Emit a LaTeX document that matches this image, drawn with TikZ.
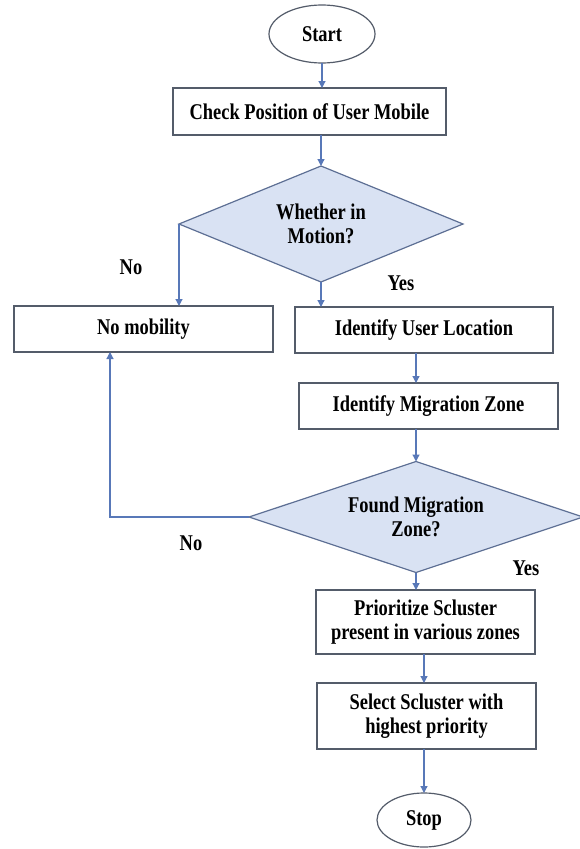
\documentclass[tikz,border=0pt]{standalone}
\usepackage{fontspec}
\setmainfont{Liberation Serif}[FakeStretch=0.82]
\usetikzlibrary{shapes.geometric,arrows.meta}
\definecolor{linkblue}{HTML}{5878B8}
\definecolor{boxline}{HTML}{545C6A}
\definecolor{decline}{HTML}{5D6F94}
\definecolor{decfill}{HTML}{D9E2F3}
\begin{document}
\begin{tikzpicture}[x=1pt,y=-1pt,
  every node/.style={font=\fontsize{22.5}{24}\selectfont\bfseries, inner sep=0pt, outer sep=0pt},
  procbox/.style={draw=boxline, line width=1.2pt, rectangle, fill=white, align=center},
  terminal/.style={draw=boxline, line width=1.2pt, ellipse, fill=white},
  decision/.style={draw=decline, line width=1.2pt, diamond, fill=decfill, align=center, shape aspect=3},
  flow/.style={draw=linkblue, line width=1.2pt, -{Triangle[length=7pt,width=7pt]}},
  branch/.style={text=black}
]
\useasboundingbox (0,0) rectangle (579,849);

% terminals
\node[terminal, minimum width=106pt, minimum height=58pt] (start) at (322,34) {Start};
\node[terminal, minimum width=94pt, minimum height=54pt] (stop) at (424,820) {Stop};

% process steps
\node[procbox, minimum width=273pt, minimum height=47pt] (check) at (309.5,111.5) {Check Position of User Mobile};
\node[procbox, minimum width=259pt, minimum height=46pt] (nomob) at (143.5,329) {No mobility};
\node[procbox, minimum width=258pt, minimum height=46pt] (userloc) at (424,330) {Identify User Location};
\node[procbox, minimum width=259pt, minimum height=46pt] (migzone) at (428.5,406) {Identify Migration Zone};
\node[procbox, minimum width=219pt, minimum height=64pt] (prior) at (425.5,622) {Prioritize Scluster\\present in various zones};
\node[procbox, minimum width=219pt, minimum height=66pt] (select) at (426.5,716) {Select Scluster with\\highest priority};

% decisions
\node[decision, minimum width=284pt, minimum height=116pt] (motion) at (321,224) {Whether in\\Motion?};
\node[decision, minimum width=334pt, minimum height=111pt] (found) at (416,517) {Found Migration\\Zone?};

% branch labels
\node[branch] (no1) at (131,267) {No};
\node[branch] (yes1) at (401,283) {Yes};
\node[branch] (no2) at (191,543) {No};
\node[branch] (yes2) at (526,568) {Yes};

% connectors
\draw[flow] (start.south) -- (start.south |- check.north);
\draw[flow] (motion.north |- check.south) -- (motion.north);
\draw[flow] (motion.west) -- (motion.west |- nomob.north);
\draw[flow] (motion.south) -- (motion.south |- userloc.north);
\draw[flow] (found.north |- userloc.south) -- (found.north |- migzone.north);
\draw[flow] (found.north |- migzone.south) -- (found.north);
\draw[flow] (found.west) -| ([xshift=-33.5pt]nomob.south);
\draw[flow] (found.south) -- (found.south |- prior.north);
\draw[flow] (stop.north |- prior.south) -- (stop.north |- select.north);
\draw[flow] (stop.north |- select.south) -- (stop.north);
\end{tikzpicture}
\end{document}
